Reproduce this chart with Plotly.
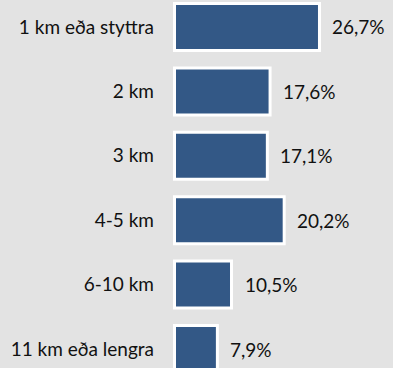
import plotly.graph_objects as go

# Distance categories and share of respondents (%)
categories = ["1 km eða styttra", "2 km", "3 km", "4-5 km", "6-10 km", "11 km eða lengra"]
shares = [26.7, 17.6, 17.1, 20.2, 10.5, 7.9]
share_labels = ["26,7%", "17,6%", "17,1%", "20,2%", "10,5%", "7,9%"]

BG = "#e3e3e3"
BAR = "#335886"
FONT = "Lato"

fig = go.Figure()
fig.add_trace(go.Bar(
    x=shares,
    y=categories,
    orientation="h",
    width=0.73,
    marker=dict(color=BAR, line=dict(color="white", width=3)),
    hoverinfo="skip",
))

for cat, val, lab in zip(categories, shares, share_labels):
    fig.add_annotation(
        x=val, y=cat, text=lab, showarrow=False,
        xanchor="left", yanchor="middle", xshift=11,
        font=dict(family=FONT, size=19, color="#111111"),
    )

fig.update_layout(
    width=393, height=368,
    margin=dict(l=160, r=0, t=0, b=0),
    paper_bgcolor=BG, plot_bgcolor=BG,
    showlegend=False,
    bargap=0.27,
    xaxis=dict(range=[-2.67, 40.24], visible=False, fixedrange=True),
    yaxis=dict(
        type="category",
        categoryorder="array", categoryarray=categories,
        range=[5.295, -0.419],
        showgrid=False, zeroline=False, showline=False,
        ticks="", ticklabelstandoff=5,
        tickfont=dict(family=FONT, size=19, color="#111111"),
        fixedrange=True,
    ),
)

fig.write_html("out.html")
